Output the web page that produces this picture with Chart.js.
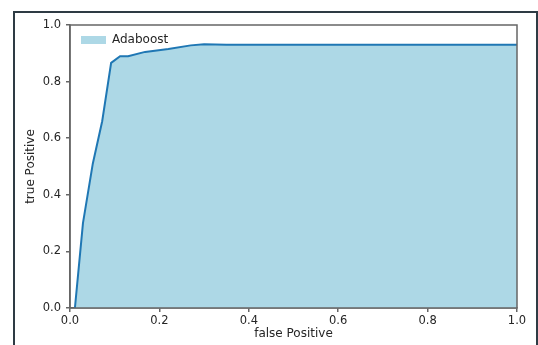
<!DOCTYPE html>
<html>
<head>
<meta charset="utf-8">
<script src="https://cdn.jsdelivr.net/npm/chart.js@4.4.1/dist/chart.umd.min.js"></script>
<style>
  html, body { margin: 0; padding: 0; background: #fff; overflow: hidden; }
  #wrap { position: relative; width: 538px; height: 345px; }
  #frame {
    position: absolute; left: 13px; top: 11px; width: 521px; height: 400px;
    border: 2px solid #2e3b44; pointer-events: none;
  }
</style>
</head>
<body>
<div id="wrap">
  <canvas id="roc" width="538" height="345"></canvas>
  <div id="frame"></div>
</div>
<script>
const falsePositive = [0.011, 0.029, 0.051, 0.072, 0.092, 0.112, 0.13, 0.168, 0.22, 0.27, 0.30, 0.35, 1.0];
const truePositive  = [0.0,   0.30,  0.51,  0.66,  0.866, 0.89,  0.89, 0.905, 0.915, 0.928, 0.932, 0.93, 0.93];
const tickValues = [0, 0.2, 0.4, 0.6, 0.8, 1.0];
const seriesName = 'Adaboost';

const fontFamily = '"DejaVu Sans", sans-serif';
const spineColor = '#666666';
const textColor = '#262626';

// contorno completo da área do gráfico (estilo matplotlib)
const spines = {
    id: 'spines',
    afterLayout(chart) {
        // legenda dentro da área do gráfico, no canto superior esquerdo
        const lg = chart.legend;
        if (lg) {
            const h = lg.bottom - lg.top;
            lg.top = chart.chartArea.top - 2;
            lg.bottom = lg.top + h;
        }
    },
    afterDatasetsDraw(chart) {
        const a = chart.chartArea;
        const ctx = chart.ctx;
        ctx.save();
        ctx.strokeStyle = spineColor;
        ctx.lineWidth = 1.5;
        ctx.strokeRect(a.left, a.top, a.right - a.left, a.bottom - a.top);
        ctx.restore();
    }
};

const points = falsePositive.map((x, i) => ({ x: x, y: truePositive[i] }));

const ctx = document.getElementById('roc').getContext('2d');
new Chart(ctx, {
    type: 'scatter',
    data: {
        datasets: [{
            label: seriesName,
            data: points,
            showLine: true,
            fill: 'origin',
            backgroundColor: '#add8e6',
            borderColor: '#1f77b4',
            borderWidth: 2,
            tension: 0,
            pointRadius: 0
        }]
    },
    options: {
        responsive: false,
        animation: false,
        layout: { padding: { top: 25, right: 21, left: 0, bottom: 0 } },
        plugins: {
            tooltip: { enabled: false },
            legend: {
                position: 'chartArea',
                align: 'start',
                labels: {
                    boxWidth: 25,
                    boxHeight: 8,
                    padding: 11,
                    color: textColor,
                    font: { family: fontFamily, size: 12 },
                    generateLabels(chart) {
                        const items = Chart.defaults.plugins.legend.labels.generateLabels(chart);
                        items.forEach(it => { it.lineWidth = 0; it.strokeStyle = 'rgba(0,0,0,0)'; });
                        return items;
                    }
                }
            }
        },
        scales: {
            x: {
                type: 'linear',
                min: 0,
                max: 1,
                afterFit(scale) { scale.height = 37; },
                afterBuildTicks(scale) { scale.ticks = tickValues.map(v => ({ value: v })); },
                grid: { drawOnChartArea: false, drawTicks: true, tickLength: 4, color: spineColor, lineWidth: 1.5 },
                border: { display: true, color: spineColor, width: 1.5 },
                ticks: {
                    padding: 2,
                    color: textColor,
                    font: { family: fontFamily, size: 11.5 },
                    callback: v => v.toFixed(1)
                },
                title: {
                    display: true,
                    text: 'false Positive',
                    color: textColor,
                    font: { family: fontFamily, size: 12 },
                    padding: { top: 0, bottom: 4 }
                }
            },
            y: {
                type: 'linear',
                min: 0,
                max: 1,
                afterFit(scale) { scale.width = 70; },
                afterBuildTicks(scale) { scale.ticks = tickValues.map(v => ({ value: v })); },
                grid: { drawOnChartArea: false, drawTicks: true, tickLength: 4, color: spineColor, lineWidth: 1.5 },
                border: { display: true, color: spineColor, width: 1.5 },
                ticks: {
                    padding: 5,
                    color: textColor,
                    font: { family: fontFamily, size: 11.5 },
                    callback: v => v.toFixed(1)
                },
                title: {
                    display: true,
                    text: 'true Positive',
                    color: textColor,
                    font: { family: fontFamily, size: 12 },
                    padding: { top: 24, bottom: 0 }
                }
            }
        }
    },
    plugins: [spines]
});
</script>
</body>
</html>
